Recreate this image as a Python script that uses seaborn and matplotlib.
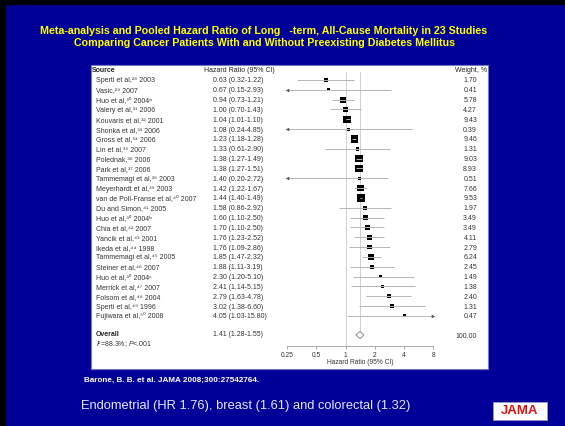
import numpy as np
import pandas as pd
import matplotlib
matplotlib.use("Agg")
import matplotlib.pyplot as plt
import seaborn as sns
from matplotlib import transforms as mtrans
from matplotlib.patches import Rectangle, Polygon
from matplotlib.ticker import NullLocator

# ---------------- data ----------------
authors = ["Sperti et al,", "Vasic,", "Huo et al,", "Valery et al,", "Kouvaris et al,",
           "Shonka et al,", "Gross et al,", "Lin et al,", "Polednak,", "Park et al,",
           "Tammemagi et al,", "Meyerhardt et al,", "van de Poll-Franse et al,",
           "Du and Simon,", "Huo et al,", "Chia et al,", "Yancik et al,", "Ikeda et al,",
           "Tammemagi et al,", "Steiner et al,", "Huo et al,", "Merrick et al,",
           "Folsom et al,", "Sperti et al,", "Fujiwara et al,"]
refs = ["²⁸", "²⁹", "³⁰", "³¹", "³²", "³³", "³⁴", "³⁵", "³⁶", "³⁷", "³⁸", "³⁹", "⁴⁰",
        "⁴¹", "³⁰", "⁴²", "⁴³", "⁴⁴", "⁴⁵", "⁴⁶", "³⁰", "⁴⁷", "⁴⁸", "⁴⁹", "⁵⁰"]
years = ["2003", "2007", "2004", "2006", "2001", "2006", "2006", "2007", "2006", "2006",
         "2003", "2003", "2007", "2005", "2004", "2007", "2001", "1998", "2005", "2007",
         "2004", "2007", "2004", "1996", "2008"]
notes = ["", "", "ᵃ", "", "", "", "", "", "", "", "", "", "", "", "ᵇ", "", "", "", "",
         "", "ᶜ", "", "", "", ""]
hr = [0.63, 0.67, 0.94, 1.00, 1.04, 1.08, 1.23, 1.33, 1.38, 1.38, 1.40, 1.42, 1.44,
      1.58, 1.60, 1.70, 1.76, 1.76, 1.85, 1.88, 2.30, 2.41, 2.79, 3.02, 4.05]
ci_low = [0.32, 0.15, 0.73, 0.70, 1.01, 0.24, 1.18, 0.61, 1.27, 1.27, 0.20, 1.22, 1.40,
          0.86, 1.10, 1.10, 1.23, 1.09, 1.47, 1.11, 1.20, 1.14, 1.63, 1.38, 1.03]
ci_high = [1.22, 2.93, 1.21, 1.43, 1.10, 4.85, 1.28, 2.90, 1.49, 1.51, 2.72, 1.67, 1.49,
           2.92, 2.50, 2.50, 2.52, 2.86, 2.32, 3.19, 5.10, 5.15, 4.78, 6.60, 15.80]
weights = [1.70, 0.41, 5.78, 4.27, 9.43, 0.39, 9.46, 1.31, 9.03, 8.93, 0.51, 7.66, 9.53,
           1.97, 3.49, 3.49, 4.11, 2.79, 6.24, 2.45, 1.49, 1.38, 2.40, 1.31, 0.47]
overall_hr = 1.41
overall_low = 1.28
overall_high = 1.55
overall_weight = 100.00
heterogeneity = r"$\mathit{I}$²=88.3%; $\mathit{P}$<.001"
x_ticks = [0.25, 0.5, 1, 2, 4, 8]
x_tick_labels = ["0.25", "0.5", "1", "2", "4", "8"]

title = ("Meta-analysis and Pooled Hazard Ratio of Long   -term, All-Cause Mortality in 23 Studies\n"
         "Comparing Cancer Patients With and Without Preexisting Diabetes Mellitus")
citation = "Barone, B. B. et al. JAMA 2008;300:27542764."
footer = "Endometrial (HR 1.76), breast (1.61) and colorectal (1.32)"

# ---------------- style ----------------
sns.set_style("white")
plt.rcParams["font.family"] = ["Liberation Sans", "DejaVu Sans"]
plt.rcParams["mathtext.fontset"] = "custom"
plt.rcParams["mathtext.rm"] = "Liberation Sans"
plt.rcParams["mathtext.it"] = "Liberation Sans:italic"
plt.rcParams["mathtext.bf"] = "Liberation Sans:bold"

W, H = 565, 426
BLUE = "#000099"
fig = plt.figure(figsize=(W / 100, H / 100), dpi=100)
fig.patch.set_facecolor(BLUE)
pix = mtrans.Affine2D().scale(1 / W, -1 / H).translate(0, 1) + fig.transFigure

# slide border (black) and white chart panel
fig.add_artist(Rectangle((0, 0), 5, H, transform=pix, color="black", zorder=0))
fig.add_artist(Rectangle((0, 0), W, 4, transform=pix, color="black", zorder=0))
fig.add_artist(Rectangle((91, 65), 397, 304, transform=pix, facecolor="white",
                         edgecolor="#7777bb", lw=0.8, zorder=1))

# ---------------- forest axes ----------------
UNIT = 29.2      # px per doubling
X1 = 345.5       # px of HR = 1
Y0, DY = 80.0, 9.83
def ypos(py):
    return (py - Y0) / DY

AX_L, AX_R, AX_T, AX_B = 250, 450, 65, 346
ax = fig.add_axes([AX_L / W, 1 - AX_B / H, (AX_R - AX_L) / W, (AX_B - AX_T) / H])
ax.set_facecolor("none")
ax.set_zorder(3)
ax.set_xscale("log", base=2)
ax.set_xlim(2 ** ((AX_L - X1) / UNIT), 2 ** ((AX_R - X1) / UNIT))
ax.set_ylim(ypos(AX_B), ypos(AX_T))

rows = np.arange(len(hr))
df = pd.DataFrame({"row": rows, "hr": hr, "lo": ci_low, "hi": ci_high, "weight": weights})

# reference lines
ax.plot([1, 1], [ypos(72), ypos(AX_B)], color="#c8c8c8", lw=0.6, zorder=1)
ax.plot([overall_hr, overall_hr], [ypos(72), ypos(331)], color="#c8c8c8", lw=0.6, zorder=1)

# study squares
sns.scatterplot(data=df, x="hr", y="row", size="weight", sizes=(4.5, 28),
                size_norm=(min(weights), max(weights)), marker="s", color="black",
                linewidth=0, legend=False, ax=ax, zorder=2)

# confidence intervals (clipped with arrows)
xmin_c, xmax_c = 0.25, 8.0
lo_c = np.clip(df["lo"], xmin_c, xmax_c)
hi_c = np.clip(df["hi"], xmin_c, xmax_c)
ax.hlines(df["row"], lo_c, hi_c, color="#b5b5b5", lw=0.7, zorder=3)
left_arrow = df[df["lo"] < xmin_c]
right_arrow = df[df["hi"] > xmax_c]
ax.plot(np.full(len(left_arrow), xmin_c), left_arrow["row"], ls="none", marker="<",
        ms=2.6, color="#555555", mew=0, zorder=3)
ax.plot(np.full(len(right_arrow), xmax_c), right_arrow["row"], ls="none", marker=">",
        ms=2.6, color="#555555", mew=0, zorder=3)

# pooled diamond
yo = ypos(335)
hh = 3.6 / DY
ax.add_patch(Polygon([(overall_low, yo), (overall_hr, yo - hh), (overall_high, yo),
                      (overall_hr, yo + hh)], closed=True, facecolor="white",
                     edgecolor="#9a9a9a", lw=0.8, zorder=4))

# axis styling
for s in ["top", "right", "left"]:
    ax.spines[s].set_visible(False)
ax.spines["bottom"].set_bounds(0.25, 8)
ax.spines["bottom"].set_color("#9a9a9a")
ax.spines["bottom"].set_linewidth(0.6)
ax.set_xticks(x_ticks)
ax.set_xticklabels(x_tick_labels)
ax.xaxis.set_minor_locator(NullLocator())
ax.set_yticks([])
ax.tick_params(axis="x", length=2.5, width=0.6, color="#9a9a9a", labelsize=4.8,
               pad=2, labelcolor="#333333", bottom=True)
ax.set_xlabel("")
ax.set_ylabel("")

# ---------------- table text ----------------
blend = mtrans.blended_transform_factory(pix, ax.transData)
TXT = "#333333"
FS_NAME, FS_NUM = 5.0, 5.0
VA = "baseline"
BOFF = 2.5 / DY   # baseline sits ~2.5 px below the row centre


def row_text(x, y, s, ha="left", **kw):
    ax.text(x, y + BOFF, s, transform=blend, fontsize=kw.pop("fontsize", FS_NAME),
            color=kw.pop("color", TXT), va=VA, ha=ha, **kw)


row_text(92, ypos(70), "Source", color="#222222", fontweight="bold")
row_text(204, ypos(70), "Hazard Ratio (95% CI)", color="#222222")
row_text(487, ypos(70), "Weight, %", ha="right", color="#222222")

for i in rows:
    name = authors[i] + refs[i] + " " + years[i] + notes[i]
    row_text(96, i, name)
    row_text(213, i, f"{hr[i]:.2f} ({ci_low[i]:.2f}-{ci_high[i]:.2f})", fontsize=FS_NUM)
    row_text(477, i, f"{weights[i]:.2f}", ha="right", fontsize=FS_NUM)

row_text(96, ypos(334), "Overall", color="#222222", fontweight="bold")
row_text(96, ypos(344), heterogeneity)
row_text(213, ypos(334), f"{overall_hr:.2f} ({overall_low:.2f}-{overall_high:.2f})",
         fontsize=FS_NUM)
row_text(477, ypos(335), f"{overall_weight:.2f}", ha="right", fontsize=FS_NUM)

fig.text(360, 363, "Hazard Ratio (95% CI)", transform=pix, fontsize=4.8, color=TXT,
         ha="center", va="center", zorder=5)

# ---------------- slide text ----------------
fig.text(264, 37, title, transform=pix, fontsize=7.65, color="#ffff00", ha="center",
         va="center", fontweight="bold", linespacing=1.25)
fig.text(84, 380, citation, transform=pix, fontsize=5.9, color="white", ha="left",
         va="center", fontweight="bold")
fig.text(81, 406, footer, transform=pix, fontsize=9.3, color="#e8e8ff", ha="left",
         va="center")

# JAMA logo
fig.add_artist(Rectangle((493, 402), 54, 18, transform=pix, facecolor="white",
                         edgecolor="#9999cc", lw=0.6, zorder=2))
fig.text(520, 411.5, "JAMA", transform=pix, fontsize=9.5, color="#dd1111", ha="center",
         va="center", fontweight="bold", zorder=3)

fig.savefig("out.png", dpi=100, facecolor=fig.get_facecolor())
